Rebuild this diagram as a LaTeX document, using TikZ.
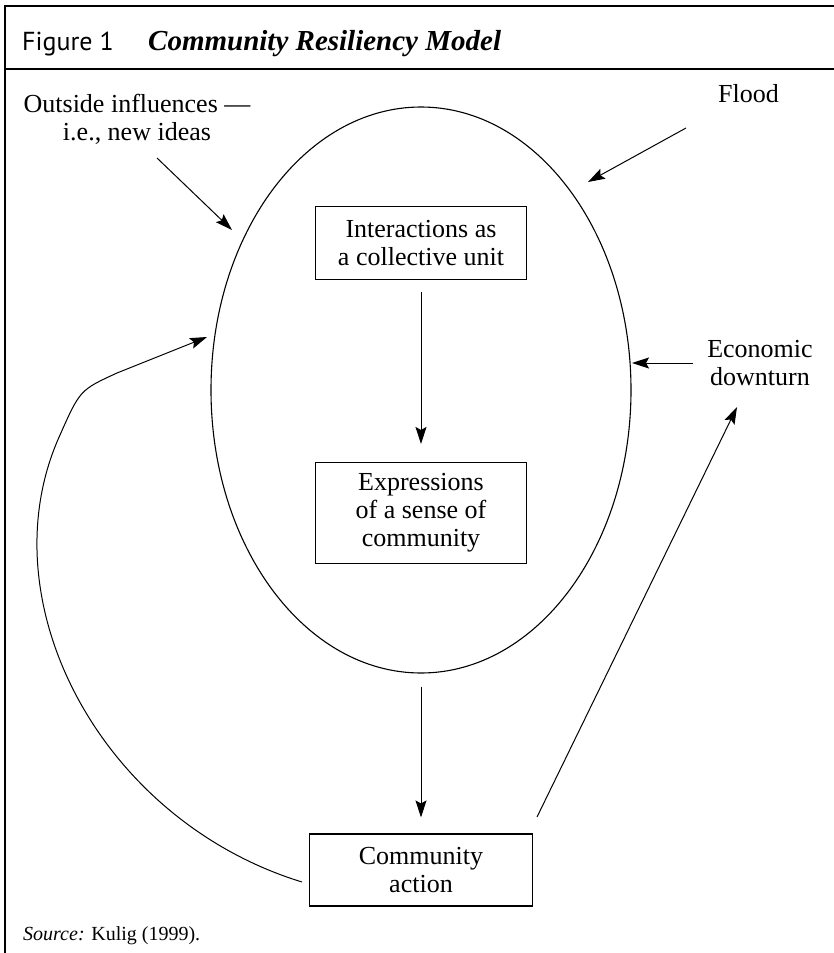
\documentclass[tikz,border=0pt]{standalone}
\usepackage{fontspec}
\setmainfont{Liberation Serif}
\newfontfamily\figsans{PT Sans}
\usetikzlibrary{positioning, shapes.geometric, arrows.meta}

\begin{document}
\begin{tikzpicture}[x=1pt, y=-1pt, font=\fontsize{26}{28}\selectfont,
  stage/.style={draw, line width=1.1pt, minimum width=211pt, align=center, inner sep=0pt},
  flow/.style={-{Stealth[length=17pt, width=11pt, inset=3pt]}, line width=1pt},
  frameline/.style={line width=1.6pt}]

\useasboundingbox (0,0) rectangle (834,953);

% frame and header
\draw[frameline] (834,6) -- (5,6) -- (5,953);
\draw[frameline] (5,69) -- (834,69);
\node[anchor=base west, inner sep=0pt, font=\figsans\fontsize{26}{28}\selectfont] (fignum) at (22,50) {Figure 1};
\node[anchor=base west, inner sep=0pt, font=\fontsize{29}{30}\selectfont\bfseries\itshape] (figtitle) at (148,50) {Community Resiliency Model};

% the community
\node[ellipse, draw, line width=1.1pt, minimum width=420pt, minimum height=566pt, inner sep=0pt] (ring) at (421,390) {};

\node[stage, minimum height=73pt] (interact) at (421,243) {Interactions as\\a collective unit};
\node[stage, minimum height=101pt] (express) at (421,513) {Expressions\\of a sense of\\community};
\node[stage, minimum width=223pt, minimum height=72pt] (action) at (421,870) {Community\\action};

\draw[flow, shorten <=12pt, shorten >=18pt] (interact) -- (express);
\draw[flow, shorten <=13pt, shorten >=16pt] (ring.south) -- (action.north);

% pressures from outside
\node[align=center, inner sep=0pt] (outside) at (137,119) {Outside influences ---\\i.e., new ideas};
\node[anchor=base west, inner sep=0pt] (flood) at (718,102) {Flood};
\node[align=center, inner sep=0pt] (econ) at (760,363) {Economic\\downturn};

\coordinate (outsideTail) at (157,158);
\coordinate (outsideHead) at (232,230);
\coordinate (floodTail) at (686,128);
\coordinate (floodHead) at (588,182);
\coordinate (econTail) at (693,363);
\coordinate (econHead) at (632,363);
\draw[flow] (outsideTail) -- (outsideHead);
\draw[flow] (floodTail) -- (floodHead);
\draw[flow] (econTail) -- (econHead);

% feedback from action
\coordinate (pushTail) at (537,817);
\coordinate (pushHead) at (737,407);
\draw[flow] (pushTail) -- (pushHead);

\coordinate (loopTail) at (302,882);
\coordinate (loopHead) at (207,337);
\draw[flow] (loopTail) .. controls (100,820) and (-15,600) .. (60,435)
  .. controls (80,390) .. (117,373) -- (loopHead);

\node[anchor=base west, inner sep=0pt, font=\fontsize{20}{24}\selectfont] (source) at (23,940) {\textit{Source:} Kulig (1999).};

\end{tikzpicture}
\end{document}
